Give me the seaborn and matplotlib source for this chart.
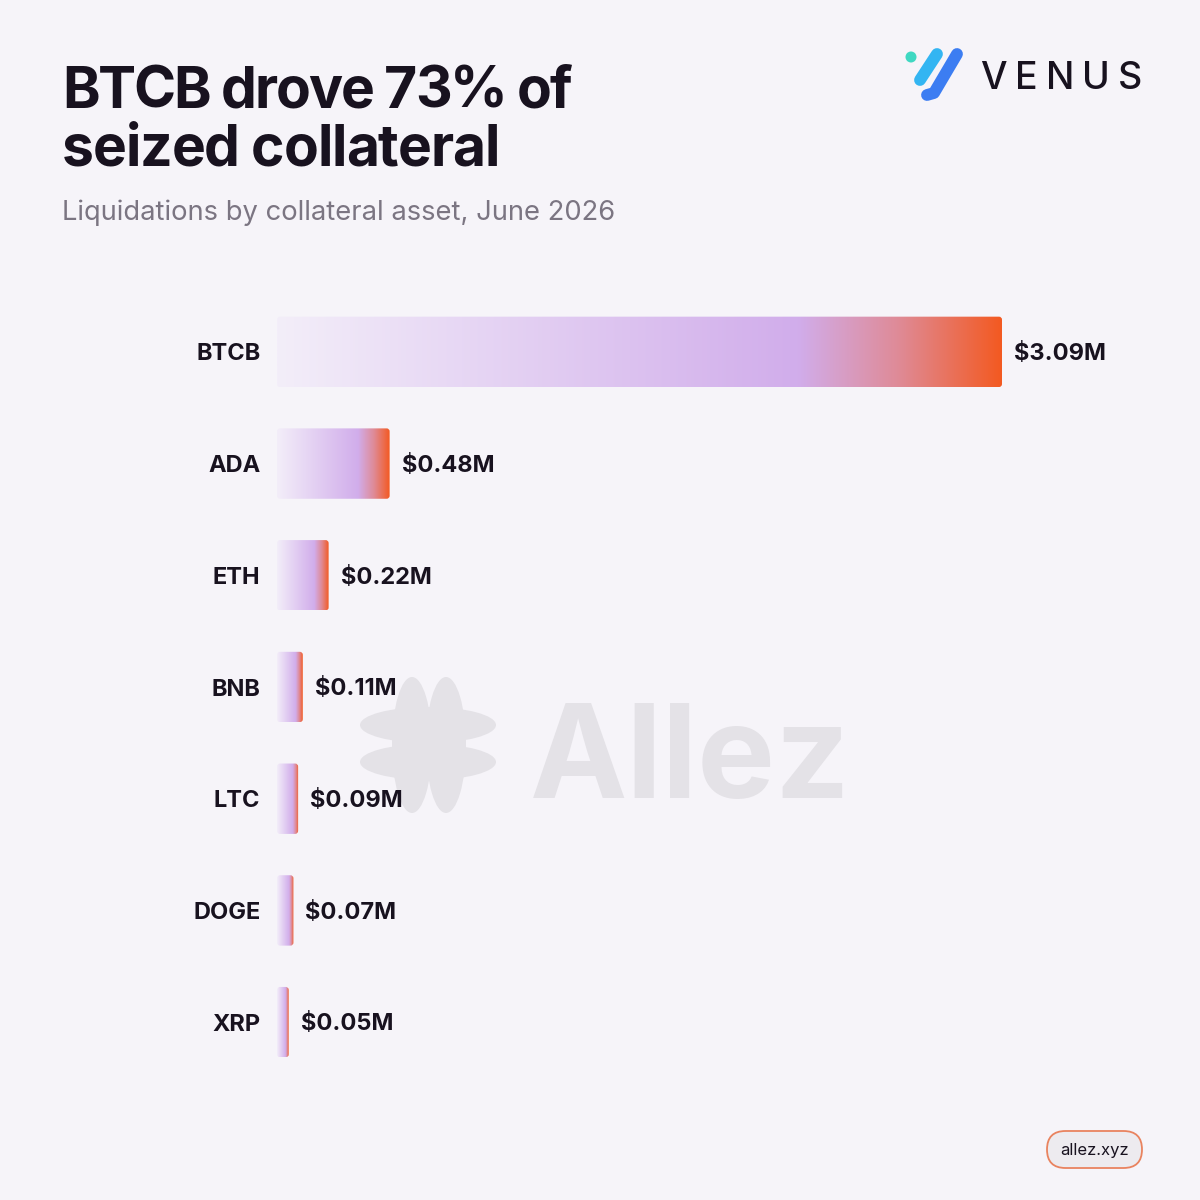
import numpy as np
import pandas as pd
import matplotlib.pyplot as plt
import seaborn as sns
from matplotlib.colors import LinearSegmentedColormap
from matplotlib.patches import FancyBboxPatch, Ellipse, Circle
from matplotlib.font_manager import FontProperties, findfont, get_font

# datos
activos = ["BTCB", "ADA", "ETH", "BNB", "LTC", "DOGE", "XRP"]
valores = [3.09, 0.48, 0.22, 0.11, 0.09, 0.07, 0.05]
etiquetas = ["$3.09M", "$0.48M", "$0.22M", "$0.11M", "$0.09M", "$0.07M", "$0.05M"]

titulo = ["BTCB drove 73% of", "seized collateral"]
subtitulo = "Liquidations by collateral asset, June 2026"

FONDO = "#F6F4F9"
TEXTO = "#18121F"
GRIS = "#7B7582"
MARCA = "#E4E2E7"

sns.set_theme(style="white")
plt.rcParams["font.family"] = ["Inter", "DejaVu Sans"]

df = pd.DataFrame({"activo": activos, "valor": valores})

fig = plt.figure(figsize=(12, 12), dpi=100, facecolor=FONDO)


def avances(texto, size, peso):
    # avance de cada glifo en pixeles (dpi 100)
    font = get_font(findfont(FontProperties(family="Inter", weight=peso)))
    font.set_size(size, 100)
    return [font.load_char(ord(c)).linearHoriAdvance / 65536 for c in texto]


def texto_espaciado(ax, x, y, texto, size, peso, color, ancho):
    # texto con espaciado entre letras ajustado a un ancho dado
    adv = avances(texto, size, peso)
    natural = sum(adv[:-1]) + adv[-1] * 0.9
    track = (ancho - natural) / (len(texto) - 1)
    pos = x
    for c, a in zip(texto, adv):
        if c != " ":
            ax.text(pos, y, c, fontsize=size, fontweight=peso, color=color,
                    va="baseline", ha="left")
        pos += a + track


# capa de fondo en pixeles
wm = fig.add_axes([0, 0, 1, 1], zorder=0)
wm.set_xlim(0, 1200)
wm.set_ylim(1200, 0)
wm.axis("off")
wm.set_facecolor("none")

# marca de agua
for cx in (412, 446):
    wm.add_patch(Ellipse((cx, 745), 40, 136, color=MARCA, lw=0))
for cy in (725, 762):
    wm.add_patch(Ellipse((428, cy), 136, 36, color=MARCA, lw=0))
wm.add_patch(Ellipse((429, 744), 66, 56, color=MARCA, lw=0))
wm.text(530, 798, "Allez", fontsize=94, fontweight="bold", color=MARCA,
        va="baseline", ha="left")

# logo VENUS
wm.add_patch(Circle((911, 57), 5.5, color="#3FD8C2", lw=0))
wm.plot([937, 920], [54, 80], color="#33B5F2", lw=8.5, solid_capstyle="round")
wm.plot([957, 934, 927], [54, 93, 95], color="#3C7DF2", lw=8.5,
        solid_capstyle="round", solid_joinstyle="round")
texto_espaciado(wm, 980, 89, "VENUS", 27, "medium", TEXTO, 160)

# pie
wm.add_patch(FancyBboxPatch((1047, 1131), 95, 37, boxstyle="round,pad=0,rounding_size=18.5",
                            facecolor="#EDEBEF", edgecolor="#E9835F", lw=1.3))
wm.text(1094.5, 1150, "allez.xyz", fontsize=12, color=TEXTO, ha="center", va="center")

# grafico
ax = fig.add_axes([277 / 1200, 1 - 1078 / 1200, 725 / 1200, (1078 - 296) / 1200], zorder=2)
ax.set_facecolor("none")
sns.barplot(data=df, x="valor", y="activo", orient="h", width=0.63, ax=ax)

cmap = LinearSegmentedColormap.from_list(
    "grad", [(0.0, "#F3EEF9"), (0.72, "#D1ADEB"), (0.86, "#DF8A96"), (1.0, "#F35A22")])
grad = np.linspace(0, 1, 256).reshape(1, -1)

for barra in list(ax.patches):
    x, y = barra.get_x(), barra.get_y()
    w, h = barra.get_width(), barra.get_height()
    barra.set_visible(False)
    caja = FancyBboxPatch((x, y), w, h, boxstyle="round,pad=0,rounding_size=0.013",
                          mutation_aspect=2.1, facecolor="none", edgecolor="none")
    ax.add_patch(caja)
    img = ax.imshow(grad, cmap=cmap, extent=(x, x + w, y + h, y), aspect="auto",
                    interpolation="bilinear", zorder=2)
    img.set_clip_path(caja)

ax.set_xlim(0, 3.09)
ax.set_ylim(6.5, -0.5)

for i, (v, t) in enumerate(zip(valores, etiquetas)):
    ax.text(v + 0.051, i + 0.02, t, fontsize=17, fontweight="bold", color=TEXTO,
            va="center", ha="left", clip_on=False)

ax.set_xlabel("")
ax.set_ylabel("")
ax.set_xticks([])
ax.tick_params(axis="y", length=0, pad=12)
for lab in ax.get_yticklabels():
    lab.set_fontsize(17)
    lab.set_fontweight("bold")
    lab.set_color(TEXTO)
sns.despine(ax=ax, left=True, bottom=True)

# titulos
texto_espaciado(wm, 62, 108, titulo[0], 41, "bold", TEXTO, 508)
texto_espaciado(wm, 62, 166, titulo[1], 41, "bold", TEXTO, 436)
wm.text(62, 220, subtitulo, fontsize=19.7, color=GRIS, va="baseline", ha="left")

fig.savefig("out.png", dpi=100, facecolor=FONDO)
